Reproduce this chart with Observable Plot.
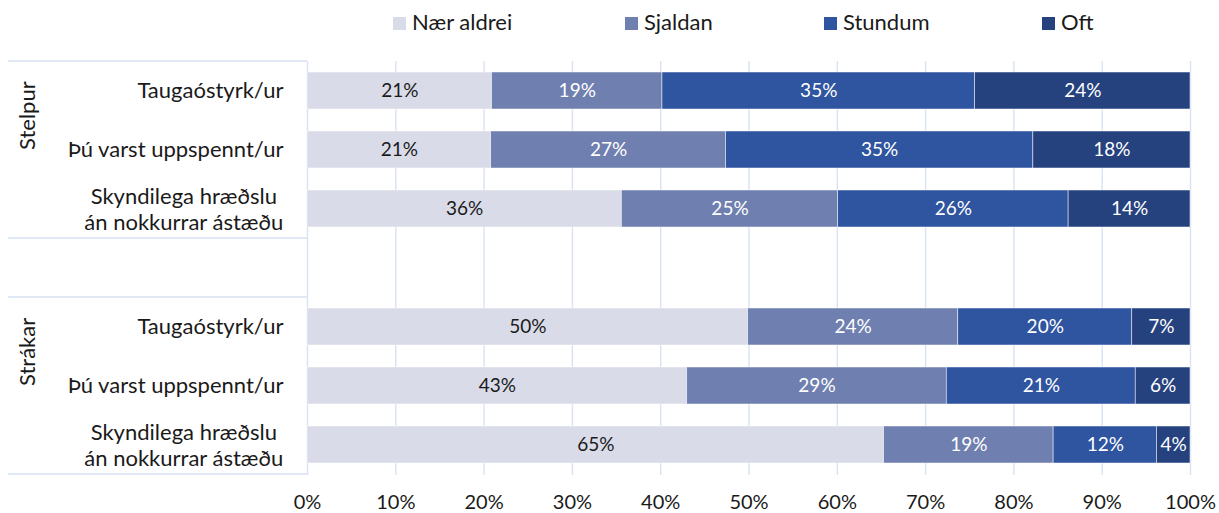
<!DOCTYPE html>
<html><head><meta charset="utf-8">
<script src="https://cdn.jsdelivr.net/npm/d3@7"></script>
<script src="https://cdn.jsdelivr.net/npm/@observablehq/plot@0.6"></script>
<style>
html,body{margin:0;padding:0;background:#fff;}
#chart{position:relative;width:1219px;height:513px;font-family:Lato,"Open Sans",sans-serif;color:#1a1a1a;overflow:hidden;}
#legend{position:relative;height:45px;}
.li{position:absolute;top:0;height:45px;}
.sw{position:absolute;top:17px;left:0;width:13px;height:13px;}
.lt{position:absolute;left:19px;top:9px;font-size:22px;line-height:26px;white-space:nowrap;}
svg{display:block;}
</style></head><body>
<div id="chart"><div id="legend"></div></div>
<script>
const groups = ["Stelpur", "Strákar"];
const items = ["Taugaóstyrk/ur", "Þú varst uppspennt/ur", "Skyndilega hræðslu\nán nokkurrar ástæðu"];
const responses = ["Nær aldrei", "Sjaldan", "Stundum", "Oft"];
const stelpurValues = [
  [20.9, 19.3, 35.4, 24.4],
  [20.8, 26.6, 34.8, 17.8],
  [35.6, 24.5, 26.1, 13.8]
];
const strakarValues = [
  [49.9, 23.8, 19.7, 6.6],
  [43.0, 29.4, 21.4, 6.2],
  [65.3, 19.2, 11.7, 3.8]
];
const xTicks = [0, 10, 20, 30, 40, 50, 60, 70, 80, 90, 100];
const colors = ["#d9dce8", "#6f7fb0", "#2f54a0", "#25427f"];
const legendLeft = [393, 625, 824, 1042];

// Build table
const groupValues = [stelpurValues, strakarValues];
const rowKey = (g, i) => g + "|" + i;
const rowDomain = [];
groups.forEach((g, gi) => {
  if (gi > 0) rowDomain.push("gap" + gi);
  items.forEach((it, ii) => rowDomain.push(rowKey(g, ii)));
});
const table = [];
groups.forEach((g, gi) => {
  items.forEach((it, ii) => {
    responses.forEach((r, ri) => {
      table.push({row: rowKey(g, ii), group: g, item: it, response: r, value: groupValues[gi][ii][ri]});
    });
  });
});
const rowLabels = [];
groups.forEach((g, gi) => items.forEach((it, ii) => rowLabels.push({row: rowKey(g, ii), label: it})));
const singleLabels = rowLabels.filter(d => !d.label.includes("\n"));
const multiLabels = rowLabels.filter(d => d.label.includes("\n"));
const groupLabels = groups.map(g => ({row: rowKey(g, 1), label: g}));

// measure multi-line label width
const cv = document.createElement("canvas").getContext("2d");
cv.font = "22px Lato";
const multiW = d3.max(multiLabels, d => d3.max(d.label.split("\n"), s => cv.measureText(s).width)) || 0;

// legend
const legend = document.getElementById("legend");
responses.forEach((r, i) => {
  const li = document.createElement("div");
  li.className = "li";
  li.style.left = legendLeft[i] + "px";
  li.innerHTML = `<div class="sw" style="background:${colors[i]}"></div><div class="lt">${r}</div>`;
  legend.appendChild(li);
});

const labelGap = 24;
const pct = d => Math.round(d.value) + "%";
const chart = Plot.plot({
  width: 1219,
  height: 468,
  marginTop: 16,
  marginBottom: 38,
  marginLeft: 307,
  marginRight: 29,
  style: {fontFamily: "Lato, 'Open Sans', sans-serif", fontSize: "20px", color: "#1a1a1a", background: "white"},
  x: {domain: [0, 100], ticks: xTicks, tickFormat: d => d + "%", tickSize: 0, tickPadding: 19, label: null},
  y: {domain: rowDomain, paddingInner: 0.37, paddingOuter: 0.185, axis: null},
  color: {domain: responses, range: colors},
  marks: [
    Plot.ruleX(xTicks, {x: d => d, stroke: "#d9e2f3", strokeWidth: 1.4}),
    Plot.barX(table, Plot.stackX({x: "value", y: "row", fill: "response", stroke: "white", strokeWidth: 0.7, strokeOpacity: 0.7})),
    Plot.text(table, Plot.filter(d => d.response === responses[0], Plot.stackX({x: "value", y: "row", z: "response", text: pct, fill: "#1a1a1a", fontSize: 19}))),
    Plot.text(table, Plot.filter(d => d.response !== responses[0], Plot.stackX({x: "value", y: "row", z: "response", text: pct, fill: "white", fontSize: 19}))),
    Plot.text(singleLabels, {y: "row", text: "label", frameAnchor: "left", textAnchor: "end", dx: -labelGap, fontSize: 22, fill: "#1a1a1a"}),
    Plot.text(multiLabels, {y: "row", text: "label", frameAnchor: "left", textAnchor: "middle", dx: -(labelGap + multiW / 2), fontSize: 22, lineHeight: 1.15, fill: "#1a1a1a"}),
    Plot.text(groupLabels, {y: "row", text: "label", frameAnchor: "left", rotate: -90, dx: -280, fontSize: 22, fill: "#1a1a1a"})
  ]
});
document.getElementById("chart").appendChild(chart);

// group separator lines in the left margin, placed through the y scale
const ys = chart.scale("y");
let bandStart, bw, step;
if (ys && typeof ys.apply === "function") {
  bandStart = k => ys.apply(k);
  bw = ys.bandwidth; step = ys.step;
} else {
  const s = d3.scaleBand(rowDomain, ys.range).paddingInner(0.37).paddingOuter(0.185);
  bandStart = k => s(k); bw = s.bandwidth(); step = s.step();
}
const half = (step - bw) / 2;
const svg = d3.select(chart.tagName.toLowerCase() === "svg" ? chart : chart.querySelector("svg"));
const gLines = svg.insert("g", ":first-child").attr("stroke", "#d9e2f3").attr("stroke-width", 1.4);
groups.forEach(g => {
  const top = bandStart(rowKey(g, 0)) - half;
  const bot = bandStart(rowKey(g, items.length - 1)) + bw + half;
  [top, bot].forEach(y => gLines.append("line").attr("x1", 8).attr("x2", 307).attr("y1", y).attr("y2", y));
});
</script>
</body></html>
